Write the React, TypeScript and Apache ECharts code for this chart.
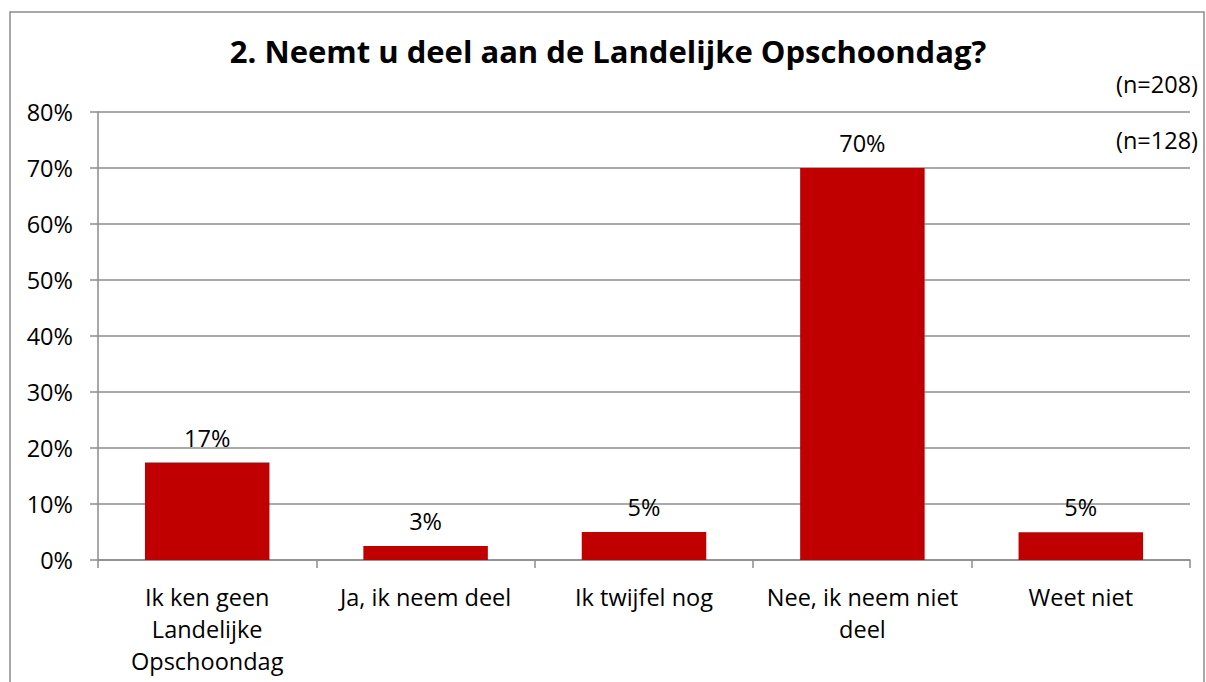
import React, { useEffect, useRef } from "react";
import * as echarts from "echarts";

const categories = [
  "Ik ken geen\nLandelijke\nOpschoondag",
  "Ja, ik neem deel",
  "Ik twijfel nog",
  "Nee, ik neem niet\ndeel",
  "Weet niet",
];
const values = [17.4, 2.5, 5.0, 70.0, 4.95];
const yTicks = [0, 10, 20, 30, 40, 50, 60, 70, 80];
const titleText = "2. Neemt u deel aan de Landelijke Opschoondag?";
const notes = ["(n=208)", "(n=128)"];

const FONT = "'Open Sans', sans-serif";
const FS = 23.5;

export default function App() {
  const ref = useRef<HTMLDivElement>(null);
  useEffect(() => {
    const chart = echarts.init(ref.current!, null, { renderer: "svg" });
    chart.setOption({
      animation: false,
      backgroundColor: "#ffffff",
      textStyle: { fontFamily: FONT },
      title: {
        text: titleText,
        left: 603,
        textAlign: "center",
        top: 30,
        textStyle: { fontSize: 31, fontWeight: "bold", color: "#000", fontFamily: FONT },
      },
      grid: { left: 98, right: 16, top: 112, bottom: 122, containLabel: false },
      xAxis: {
        type: "category",
        data: categories,
        axisLine: { show: true, lineStyle: { color: "#8c8c8c", width: 1.5 } },
        axisTick: { show: true, length: 8, alignWithLabel: false, lineStyle: { color: "#8c8c8c", width: 1.5 } },
        axisLabel: {
          interval: 0,
          fontSize: FS,
          lineHeight: 32,
          color: "#000",
          margin: 21,
          fontFamily: FONT,
        },
      },
      yAxis: {
        type: "value",
        min: 0,
        max: 80,
        interval: 10,
        axisLine: { show: true, lineStyle: { color: "#8c8c8c", width: 1.5 } },
        axisTick: { show: true, length: 8, lineStyle: { color: "#8c8c8c", width: 1.5 } },
        splitLine: { show: true, lineStyle: { color: "#8c8c8c", width: 1.5 } },
        axisLabel: {
          fontSize: FS,
          color: "#000",
          margin: 25,
          fontFamily: FONT,
          formatter: (v: number) => (yTicks.includes(v) ? v + "%" : ""),
        },
      },
      series: [
        {
          type: "bar",
          data: values,
          barWidth: "57%",
          itemStyle: { color: "#c00000" },
          label: {
            show: true,
            position: "top",
            distance: 13,
            fontSize: FS,
            color: "#000",
            fontFamily: FONT,
            formatter: (p: any) => Math.round(p.value) + "%",
          },
        },
      ],
      graphic: [
        {
          type: "rect",
          shape: { x: 10, y: 12, width: 1194, height: 700 },
          style: { fill: "none", stroke: "#8c8c8c", lineWidth: 1.5 },
          silent: true,
        },
        {
          type: "text",
          right: 8,
          top: 72,
          style: { text: notes[0], fontSize: FS, fill: "#000", fontFamily: FONT },
        },
        {
          type: "text",
          right: 8,
          top: 128,
          style: { text: notes[1], fontSize: FS, fill: "#000", fontFamily: FONT },
        },
      ],
    });
    return () => chart.dispose();
  }, []);
  return (
    <div
      ref={ref}
      style={{ position: "absolute", left: 0, top: 0, width: 1206, height: 682 }}
    />
  );
}
